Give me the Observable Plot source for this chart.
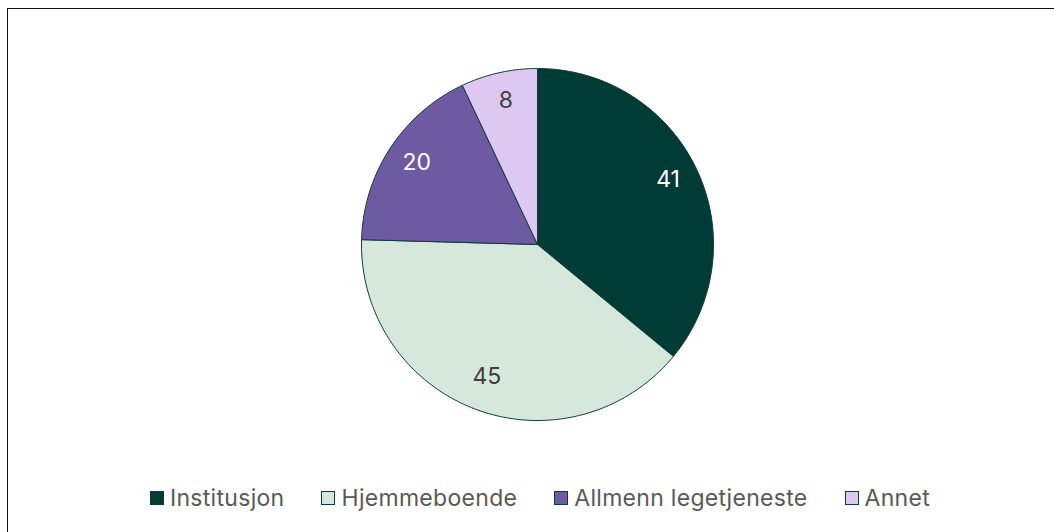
<!DOCTYPE html>
<html>
<head>
<meta charset="utf-8">
<script src="https://cdn.jsdelivr.net/npm/d3@7"></script>
<script src="https://cdn.jsdelivr.net/npm/@observablehq/plot@0.6"></script>
<style>
  html, body { margin: 0; padding: 0; background: #fff; }
  body { width: 1054px; height: 532px; position: relative; overflow: hidden; font-family: Inter, "Noto Sans", sans-serif; }
  #frame { position: absolute; left: 7px; top: 8px; width: 1100px; height: 600px; border-top: 1.5px solid #111; border-left: 1.5px solid #111; box-sizing: border-box; pointer-events: none; }
  #chart { position: absolute; left: 0; top: 0; }
  #legend { position: absolute; left: 13px; top: 480px; width: 1054px; height: 36px; display: flex; justify-content: center; align-items: center; gap: 37px; font-size: 23px; letter-spacing: 0.3px; color: #595959; }
  .item { display: flex; align-items: center; gap: 6px; }
  .sw { width: 14px; height: 14px; border: 1px solid #0d3b36; box-sizing: border-box; }
</style>
</head>
<body>
<div id="chart"></div>
<div id="legend"></div>
<div id="frame"></div>
<script>
const categories = ["Institusjon", "Hjemmeboende", "Allmenn legetjeneste", "Annet"];
const values = [41, 45, 20, 8];
const colors = ["#003b36", "#d6e8dc", "#6e5aa2", "#dcc8f0"];
const labelColors = ["#ffffff", "#404040", "#ffffff", "#404040"];

const pie = d3.pie().sort(null).value(d => d.value)(categories.map((c, i) => ({category: c, value: values[i], i})));

// polygon outlines of each slice (unit circle, clockwise from top)
const outline = [];
pie.forEach(p => {
  const steps = Math.max(2, Math.ceil((p.endAngle - p.startAngle) / (Math.PI / 180)));
  outline.push({category: p.data.category, x: 0, y: 0});
  for (let k = 0; k <= steps; k++) {
    const a = p.startAngle + (p.endAngle - p.startAngle) * k / steps;
    outline.push({category: p.data.category, x: Math.sin(a), y: Math.cos(a)});
  }
  outline.push({category: p.data.category, x: 0, y: 0});
});

const labelR = 0.82;
const labels = pie.map(p => {
  const a = (p.startAngle + p.endAngle) / 2;
  return {category: p.data.category, value: p.data.value, x: labelR * Math.sin(a), y: labelR * Math.cos(a), color: labelColors[p.data.i]};
});

const cx = 537, cy = 244, R = 176;
const chart = Plot.plot({
  width: 1054,
  height: 480,
  margin: 0,
  x: {domain: [-1, 1], range: [cx - R, cx + R], axis: null},
  y: {domain: [-1, 1], range: [cy + R, cy - R], axis: null},
  color: {domain: categories, range: colors},
  marks: [
    Plot.line(outline, {x: "x", y: "y", z: "category", fill: "category", stroke: "#0d3b36", strokeWidth: 1, strokeLinejoin: "round", curve: "linear"}),
    Plot.text(labels, {x: "x", y: "y", dy: -3, text: d => String(d.value), fill: "color", fontSize: 23, fontFamily: "Inter, 'Noto Sans', sans-serif"})
  ]
});
document.getElementById("chart").appendChild(chart);

const legend = document.getElementById("legend");
categories.forEach((c, i) => {
  const item = document.createElement("div");
  item.className = "item";
  const sw = document.createElement("div");
  sw.className = "sw";
  sw.style.background = colors[i];
  const t = document.createElement("span");
  t.textContent = c;
  item.appendChild(sw);
  item.appendChild(t);
  legend.appendChild(item);
});
</script>
</body>
</html>
